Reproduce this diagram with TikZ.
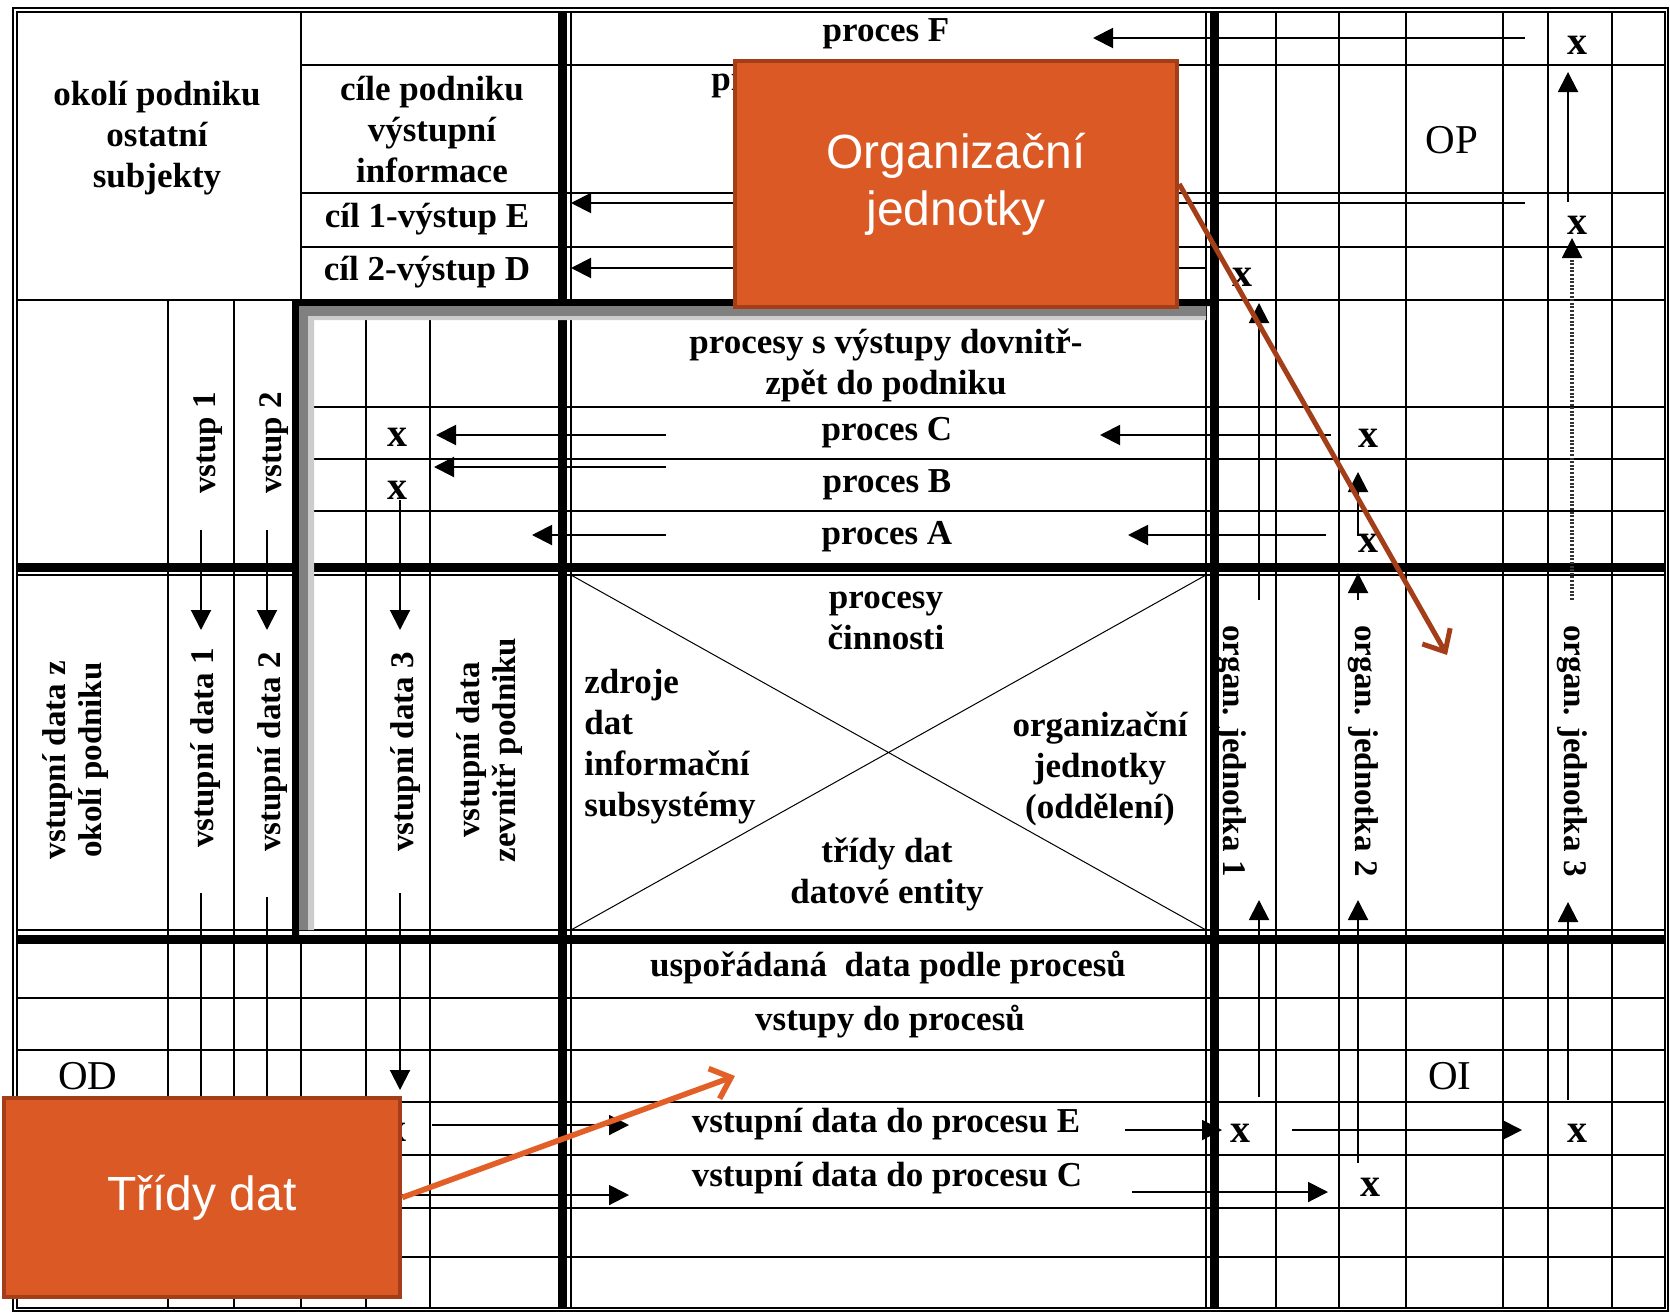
\documentclass[tikz,border=0pt]{standalone}
\usepackage{fontspec}
\setmainfont{Liberation Serif}
\newfontfamily\calloutfont{Liberation Sans}
\usetikzlibrary{arrows.meta}
\definecolor{ojfill}{RGB}{218,89,36}
\definecolor{ojedge}{RGB}{163,62,24}
\definecolor{ojarrow}{RGB}{226,96,40}
\tikzset{
  lbl/.style={font=\bfseries\fontsize{17.5}{20.5}\selectfont,align=center,inner sep=0pt},
  vlbl/.style={lbl,font=\bfseries\fontsize{16.5}{18}\selectfont,rotate=90},
  olbl/.style={lbl,font=\bfseries\fontsize{16.5}{18}\selectfont,rotate=-90},
  xm/.style={font=\bfseries\fontsize{20}{20}\selectfont,inner sep=0pt},
  ol/.style={font=\fontsize{20.5}{20.5}\selectfont,inner sep=0pt},
  callout/.style={rectangle,draw=ojedge,line width=2.2pt,fill=ojfill,text=white,
    font=\calloutfont\fontsize{24}{28.5}\selectfont,align=center,inner sep=0pt},
}

\begin{document}
\begin{tikzpicture}[x=0.5pt,y=-0.5pt,
  thinl/.style={line width=1pt},
  thickl/.style={line width=4.5pt},
  ar/.style={line width=1pt,-{Triangle[length=10pt,width=10pt]}}]
  \useasboundingbox (0,0) rectangle (1670,1312);
  \fill[white] (0,0) rectangle (1670,1312);
  % frame
  \draw[line width=0.8pt] (13,8) rectangle (1668,1311);
  \draw[line width=0.8pt] (17,12) rectangle (1665,1308);
  % grid
  \foreach \x in {1276,1339,1406,1503,1548,1612} \draw[thinl] (\x,12) -- (\x,1308);
  \foreach \x in {168,234} \draw[thinl] (\x,300) -- (\x,1308);
  \foreach \x in {366,430} \draw[thinl] (\x,320) -- (\x,1308);
  \draw[thinl] (301,12) -- (301,300) (301,939) -- (301,1308);
  \foreach \y in {65,193,247} \draw[thinl] (301,\y) -- (1665,\y);
  \draw[thinl] (17,300) -- (1665,300);
  \foreach \y in {407,459,511} \draw[thinl] (314,\y) -- (1665,\y);
  \foreach \y in {998,1050,1102,1155,1208,1257} \draw[thinl] (17,\y) -- (1665,\y);
  \draw[thinl] (17,575) -- (1665,575) (17,930) -- (1665,930);
  \draw[thinl] (571,12) -- (571,1308) (1206,12) -- (1206,1308);
  \draw[thickl] (17,567) -- (1665,567) (17,939) -- (1665,939);
  \draw[thickl] (562,12) -- (562,1308) (1214,12) -- (1214,1308);
  \draw[line width=0.5pt] (571,575) -- (1206,930) (571,930) -- (1206,575);
  % raised box
  \fill[black] (292,299) rectangle (1214,306) (292,299) rectangle (299,935);
  \fill[gray] (299,306) rectangle (1206,316) (299,306) rectangle (308,930);
  \fill[gray!40] (308,316) rectangle (1206,320) (308,316) rectangle (314,930);

  % texts
  \node[lbl] (okoli) at (157,138) {okolí podniku\\ostatní\\subjekty};
  \node[lbl] (cile) at (432,130) {cíle podniku\\výstupní\\informace};
  \node[lbl] (cil1) at (427,219) {cíl 1-výstup E};
  \node[lbl] (cil2) at (427,272) {cíl 2-výstup D};
  \node[lbl] (procF) at (886,34) {proces F};
  \node[lbl,anchor=west] (procP) at (711,86) {pr};
  \node[lbl] (procvys) at (886,365) {procesy s výstupy dovnitř-\\zpět do podniku};
  \node[lbl] (procC) at (887,433) {proces C};
  \node[lbl] (procB) at (887,485) {proces B};
  \node[lbl] (procA) at (887,537) {proces A};
  \node[lbl] (cinn) at (886,621) {procesy\\činnosti};
  \node[lbl,align=left,anchor=west] (zdroje) at (584,747) {zdroje\\dat\\informační\\subsystémy};
  \node[lbl] (orgj) at (1100,769) {organizační\\jednotky\\(oddělení)};
  \node[lbl] (tridy) at (887,874) {třídy dat\\datové entity};
  \node[lbl] (uspor) at (888,968) {uspořádaná\ \ data podle procesů};
  \node[lbl] (vstdo) at (890,1022) {vstupy do procesů};
  \node[lbl] (vdE) at (886,1124) {vstupní data do procesu E};
  \node[lbl] (vdC) at (887,1178) {vstupní data do procesu C};
  \node[vlbl] (vst1) at (208,443) {vstup 1};
  \node[vlbl] (vst2) at (274,443) {vstup 2};
  \node[vlbl] (vdz) at (76,760) {vstupní data z\\okolí podniku};
  \node[vlbl] (vd1) at (206,748) {vstupní data 1};
  \node[vlbl] (vd2) at (273,752) {vstupní data 2};
  \node[vlbl] (vd3) at (406,752) {vstupní data 3};
  \node[vlbl] (vdzev) at (490,750) {vstupní data\\zevnitř podniku};
  \node[olbl] (org1) at (1231,751) {organ. jednotka 1};
  \node[olbl] (org2) at (1363,751) {organ. jednotka 2};
  \node[olbl] (org3) at (1572,751) {organ. jednotka 3};
  \node[ol] (OP) at (1452,140) {OP};
  \node[ol] (OD) at (88,1076) {OD};
  \node[ol] (OI) at (1450,1076) {OI};
  % x marks
  \foreach \x/\y [count=\i] in {1577/45,1577/225,1242/277,397/437,397/490,1368/438,
      1368/543,396/1132,1240/1133,1577/1133,1370/1187}
    \node[xm] (x\i) at (\x,\y) {x};

  % arrows
  \foreach \y/\xa/\xb in {38/1525/1093,203/1525/571,268/1206/571,435/666/436,
      435/1331/1100,467/666/434,535/666/532,535/1326/1128,1125/432/629,
      1195/380/629,1130/1125/1222,1130/1292/1522,1192/1132/1328}
    \draw[ar] (\xa,\y) -- (\xb,\y);
  \foreach \x/\ya/\yb in {1568/202/72,1259/600/303,1358/600/573,1259/1097/900,
      1358/1163/900,1568/1100/902,201/530/630,267/530/630,400/500/630,400/893/1090}
    \draw[ar] (\x,\ya) -- (\x,\yb);
  \draw[ar] (1363,535) -- (1358,535) -- (1358,472);
  \draw[line width=1.6pt,black!80,dash pattern=on 1pt off 0.8pt] (1572,600) -- (1572,252);
  \draw[ar] (1572,256) -- (1572,238);
  \draw[thinl] (201,893) -- (201,1100) (267,897) -- (267,1100);

  % callouts
  \node[callout,minimum width=221pt,minimum height=123pt] (oj) at (956,184) {Organizační\\jednotky};
  \node[callout,minimum width=198pt,minimum height=99.5pt] (td) at (202,1197.5) {Třídy dat};
  \coordinate (ojtip) at (1447,655);
  \coordinate (tdtip) at (735,1076);
  \draw[ojedge,line width=2.5pt,-{Straight Barb[length=9pt,width=16pt]}] (oj.east) -- (ojtip);
  \draw[ojarrow,line width=2.8pt,-{Straight Barb[length=9pt,width=16pt]}] (td.east) -- (tdtip);
\end{tikzpicture}
\end{document}
